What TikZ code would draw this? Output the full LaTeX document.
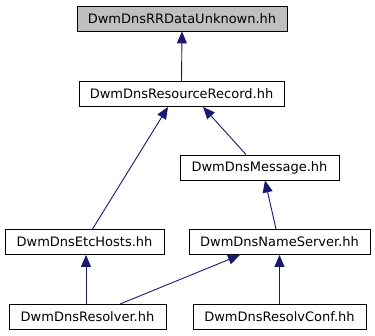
\documentclass[tikz,border=0pt]{standalone}
\usepackage{fontspec}
\setmainfont{DejaVu Sans}
\usepackage{xcolor}
\usetikzlibrary{positioning, calc, arrows.meta}

\definecolor{edgeblue}{HTML}{191970}
\definecolor{rootgrey}{HTML}{BFBFBF}

\begin{document}
\begin{tikzpicture}[x=1pt,y=-1pt,
        file/.style={draw=black, line width=0.9pt, fill=white, inner sep=0pt,
          minimum height=25pt, font=\fontsize{13}{15}\selectfont},
        root/.style={file, fill=rootgrey},
        dep/.style={draw=edgeblue, line width=0.9pt,
          -{Triangle[length=12pt,width=10pt]}}]

        \useasboundingbox (0,0) rectangle (375,336);

        % Root header
        \node[root, minimum width=210pt] (unk) at (182, 18.5) {DwmDnsRRDataUnknown.hh};

        % Second level
        \node[file, minimum width=205pt] (rr) at (181.5, 94) {DwmDnsResourceRecord.hh};
        \node[file, minimum width=159pt] (msg) at (259.5, 167.5) {DwmDnsMessage.hh};

        % Third level
        \node[file, minimum width=159pt] (etc) at (84.5, 242) {DwmDnsEtcHosts.hh};
        \node[file, minimum width=181pt] (ns) at (279.5, 242) {DwmDnsNameServer.hh};

        % Bottom level
        \node[file, minimum width=157pt] (res) at (87.5, 317) {DwmDnsResolver.hh};
        \node[file, minimum width=173pt] (conf) at (279.5, 317) {DwmDnsResolvConf.hh};

        % Include edges (child -> parent)
        \draw[dep] (rr.north) -- (unk.south);
        \draw[dep] ([xshift=8pt]etc.north) -- ([xshift=-13.5pt]rr.south);
        \draw[dep] ([xshift=-13.5pt]msg.north) -- ([xshift=21.5pt]rr.south);
        \draw[dep] ([xshift=-3.5pt]ns.north) -- ([xshift=5.5pt]msg.south);
        \draw[dep] ([xshift=-1.5pt]res.north) -- ([xshift=1.5pt]etc.south);
        \draw[dep] ([xshift=32.5pt]res.north) -- ([xshift=-39.5pt]ns.south);
        \draw[dep] (conf.north) -- (ns.south);

    \end{tikzpicture}
\end{document}
